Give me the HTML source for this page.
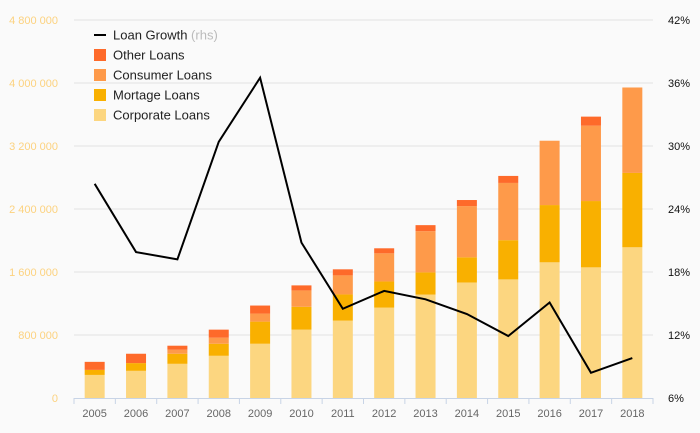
<!DOCTYPE html>
<html><head><meta charset="utf-8"><style>
body{margin:0;background:#fafafa;}
svg{display:block;font-family:"Liberation Sans",sans-serif;}
</style></head><body>
<svg id="c" width="700" height="433"></svg>
<script>
const years=["2005","2006","2007","2008","2009","2010","2011","2012","2013","2014","2015","2016","2017","2018"];
const corporate=[293000,345000,434000,536000,689000,868000,983000,1148000,1314000,1467000,1506000,1723000,1659000,1914000];
const mortgage=[64000,98000,128000,153000,281000,290000,332000,332000,281000,319000,498000,727000,842000,944000];
const consumer=[0,0,51000,77000,102000,208000,242000,357000,523000,651000,727000,817000,957000,1085000];
const other=[102000,119000,51000,102000,102000,64000,77000,64000,77000,77000,89000,0,115000,0];
const growth=[26.4,19.9,19.2,30.4,36.5,20.8,14.5,16.2,15.4,14.0,11.9,15.1,8.4,9.8];
const leftTicks=[0,800000,1600000,2400000,3200000,4000000,4800000];
const rightTicks=[6,12,18,24,30,36,42];
const NS="http://www.w3.org/2000/svg";
const svg=document.getElementById('c');
const X0=74,X1=653,Y0=398,YT=20;
const step=(X1-X0)/years.length;
const xc=i=>X0+step*(i+0.5);
const yL=v=>Y0-(v/4800000)*(Y0-YT);
const yR=p=>Y0-((p-6)/36)*(Y0-YT);
function el(t,a,p){const e=document.createElementNS(NS,t);for(const k in a)e.setAttribute(k,a[k]);(p||svg).appendChild(e);return e;}
const fmt=v=>String(v).replace(/\B(?=(\d{3})+(?!\d))/g," ");
leftTicks.forEach((v,i)=>{
  if(i>0){const g=el('line',{x1:X0,x2:X1,y1:yL(v),y2:yL(v),stroke:'#e3e3e3','stroke-width':1});
  
  }
  const t=el('text',{x:58,y:yL(v)+4,'text-anchor':'end','font-size':11,fill:'#fcd27f'});t.textContent=fmt(v);
  
  
});
rightTicks.forEach(p=>{
  const t=el('text',{x:668,y:yR(p)+4,'font-size':11,fill:'#111'});t.textContent=p+'%';
  
  
});
const series=[[corporate,'#fcd680','corporate'],[mortgage,'#f9b000','mortgage'],[consumer,'#fe9a4a','consumer'],[other,'#fe6a2a','other']];
years.forEach((y,i)=>{
  let acc=0;
  series.forEach(([arr,col,nm])=>{
    const v=arr[i];if(v<=0)return;
    const r=el('rect',{x:xc(i)-10,y:yL(acc+v),width:20,height:yL(acc)-yL(acc+v),fill:col});
    
    
    acc+=v;
  });
  const t=el('text',{x:xc(i),y:417,'text-anchor':'middle','font-size':11,fill:'#666'});t.textContent=y;
  
  
});
const ax=el('line',{x1:X0,x2:X1,y1:Y0+0.5,y2:Y0+0.5,stroke:'#c8d4e6'});


for(let i=0;i<=years.length;i++){const tk=el('line',{x1:X0+step*i,x2:X0+step*i,y1:Y0,y2:Y0+6,stroke:'#c8d4e6'});

}
const line=el('polyline',{points:growth.map((p,i)=>xc(i)+','+yR(p)).join(' '),fill:'none',stroke:'#000','stroke-width':2});


const leg=[['line','#000','Loan Growth','loan-growth'],['rect','#fe6a2a','Other Loans','other'],['rect','#fe9a4a','Consumer Loans','consumer'],['rect','#f9b000','Mortage Loans','mortgage'],['rect','#fcd680','Corporate Loans','corporate']];
leg.forEach(([k,c,txt,nm],i)=>{
  const cy=35+i*20;
  const g=el('g',{});
  
  
  if(k==='line')el('rect',{x:94,y:cy-1,width:12,height:2,fill:c},g);
  else el('rect',{x:94,y:cy-6,width:12,height:12,fill:c},g);
  const t=el('text',{x:113,y:cy+4.5,'font-size':13,fill:'#222'},g);t.textContent=txt;
  if(k==='line'){const s=el('tspan',{fill:'#bbb'},t);s.textContent=' (rhs)';}
});
</script>
</body></html>
